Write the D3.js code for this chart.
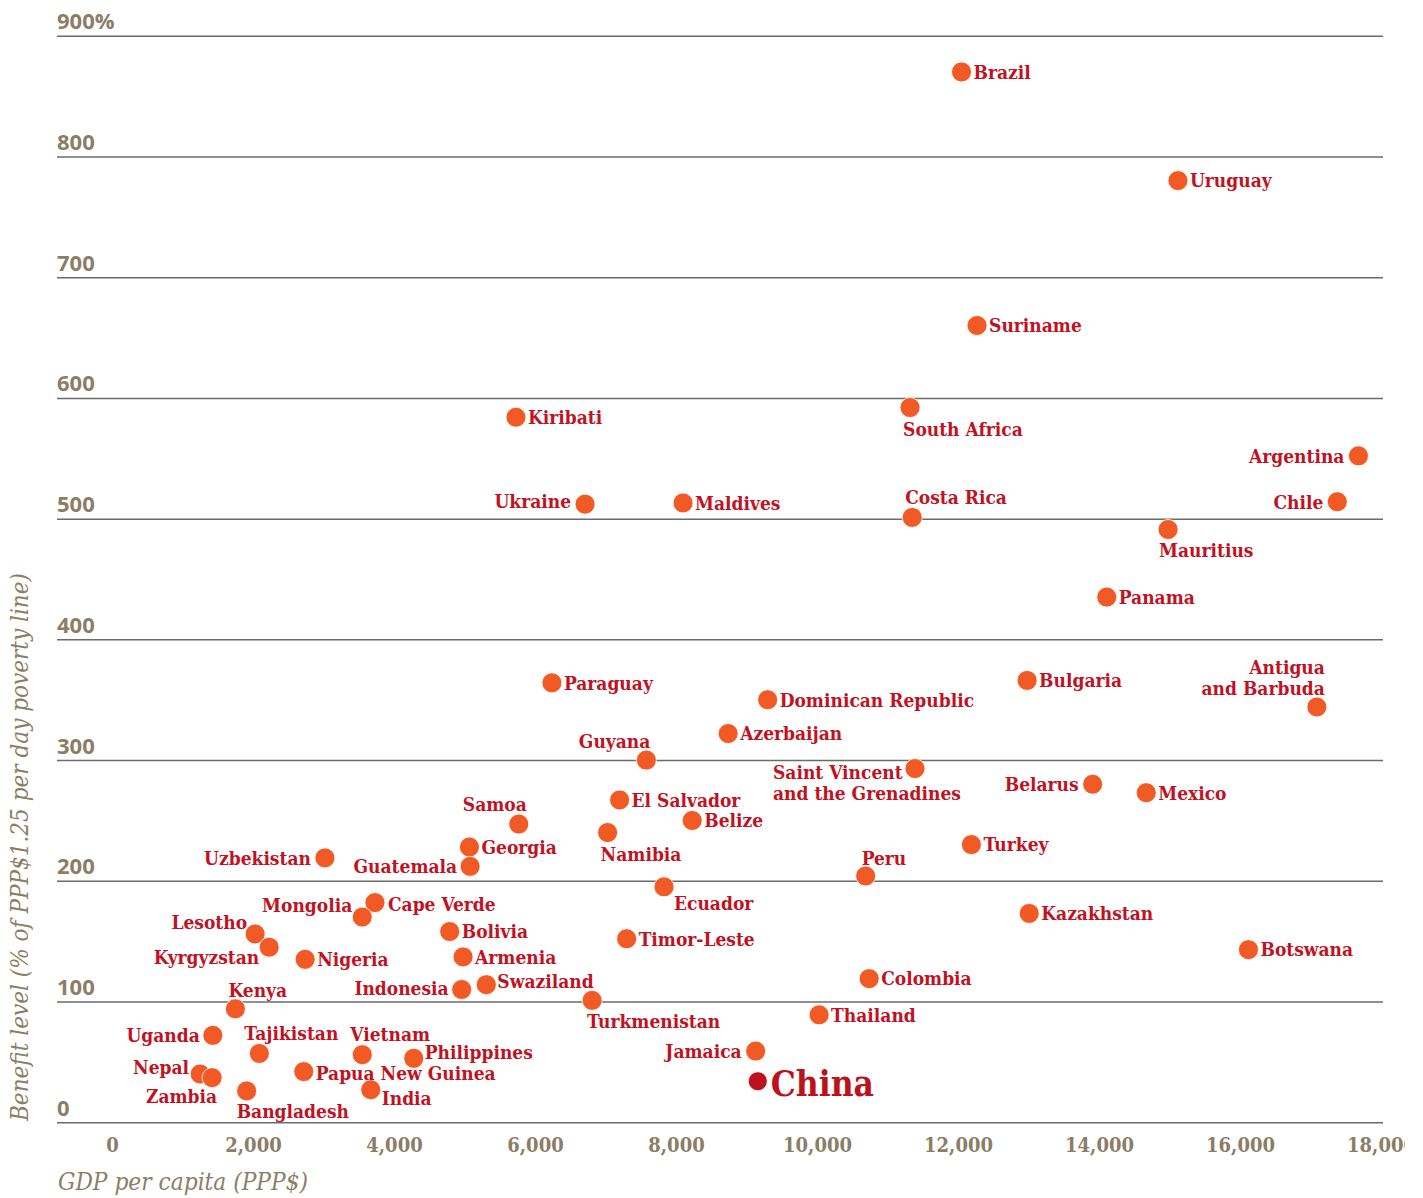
<!DOCTYPE html>
<html>
<head>
<meta charset="utf-8">
<script src="https://cdn.jsdelivr.net/npm/d3@7"></script>
<style>
  body { margin: 0; background: #fff; }
  svg { display: block; }
</style>
</head>
<body>
<svg width="1423" height="1198"></svg>
<script>
// ---- data ----
const countries = [
  "Brazil", "Uruguay", "Suriname", "Kiribati", "South Africa", "Argentina", "Ukraine", "Maldives",
  "Costa Rica", "Chile", "Mauritius", "Panama", "Paraguay", "Dominican Republic", "Bulgaria",
  "Antigua\nand Barbuda", "Azerbaijan", "Guyana", "Saint Vincent\nand the Grenadines", "Belarus", "Mexico",
  "El Salvador", "Samoa", "Belize", "Namibia", "Georgia", "Uzbekistan", "Guatemala", "Turkey", "Peru",
  "Ecuador", "Cape Verde", "Mongolia", "Kazakhstan", "Lesotho", "Bolivia", "Timor-Leste", "Kyrgyzstan",
  "Botswana", "Nigeria", "Armenia", "Colombia", "Indonesia", "Swaziland", "Turkmenistan", "Kenya",
  "Thailand", "Uganda", "Tajikistan", "Vietnam", "Philippines", "Jamaica", "Nepal", "Zambia",
  "Papua New Guinea", "Bangladesh", "India", "China"
];
const gdpPerCapita = [
  12050, 15120, 12270, 5730, 11320, 17680, 6710, 8100,
  11350, 17380, 14980, 14110, 6240, 9300, 12980,
  17090, 8740, 7580, 11390, 13910, 14670,
  7200, 5770, 8230, 7030, 5070, 3020, 5080, 12190, 10690,
  7830, 3730, 3550, 13010, 2030, 4790, 7300, 2230,
  16120, 2740, 4980, 10740, 4960, 5310, 6810, 1750,
  10030, 1430, 2090, 3550, 4280, 9130, 1250, 1420,
  2720, 1910, 3670, 9160
];
const benefitLevel = [
  870, 780, 660, 584, 592, 552, 512, 513,
  501, 514, 491, 435, 364, 350, 366,
  344, 322, 300, 293, 280, 273,
  267, 247, 250, 240, 228, 219, 212, 230, 204,
  195, 182, 170, 173, 156, 158, 152, 145,
  143, 135, 137, 119, 110, 114, 101, 94,
  89, 72, 57, 56, 53, 59, 40, 37,
  42, 26, 27, 34
];
const highlight = "China";

const xTicks = [0, 2000, 4000, 6000, 8000, 10000, 12000, 14000, 16000, 18000];
const yTicks = [0, 100, 200, 300, 400, 500, 600, 700, 800, 900];
const yTickLabels = ["0", "100", "200", "300", "400", "500", "600", "700", "800", "900%"];

// label placement: [dx, dy, anchor] relative to the dot (layout only)
const labelPlace = {
  "South Africa": [-7, 22, "start"],
  "Argentina": [-14, 0, "end"],
  "Ukraine": [-14, -3, "end"],
  "Costa Rica": [-7, -20, "start"],
  "Chile": [-14, 0, "end"],
  "Mauritius": [-9, 21, "start"],
  "Antigua\nand Barbuda": [8, -40, "end"],
  "Guyana": [4, -19, "end"],
  "Saint Vincent\nand the Grenadines": [-142, 4, "start"],
  "Belarus": [-14, 0, "end"],
  "Samoa": [8, -20, "end"],
  "Namibia": [-7, 22, "start"],
  "Uzbekistan": [-14, 0, "end"],
  "Guatemala": [-13, 0, "end"],
  "Peru": [-4, -18, "start"],
  "Ecuador": [10, 16, "start"],
  "Mongolia": [-10, -12, "end"],
  "Cape Verde": [13, 2, "start"],
  "Lesotho": [-8, -12, "end"],
  "Kyrgyzstan": [-10, 10, "end"],
  "Indonesia": [-13, -1, "end"],
  "Swaziland": [11, -4, "start"],
  "Turkmenistan": [-5, 21, "start"],
  "Kenya": [-7, -19, "start"],
  "Uganda": [-13, 0, "end"],
  "Tajikistan": [-15, -20, "start"],
  "Vietnam": [-12, -21, "start"],
  "Philippines": [11, -6, "start"],
  "Papua New Guinea": [12, 2, "start"],
  "Jamaica": [-14, 0, "end"],
  "Nepal": [-11, -7, "end"],
  "Zambia": [5, 19, "end"],
  "Bangladesh": [-10, 20, "start"],
  "India": [11, 8, "start"],
  "China": [13, 2, "start"]
};

const points = countries.map((c, i) => ({name: c, gdp: gdpPerCapita[i], benefit: benefitLevel[i]}));

const tan = "#8c7d66";
const dotColor = "#f15a24";
const labelColor = "#c1121f";
const chinaColor = "#bd111c";
const slab = "'DejaVu Serif Condensed', 'DejaVu Serif', serif";

const svg = d3.select("svg");

const gridLeft = 57, gridRight = 1383;

const x = d3.scaleLinear().domain([0, 18000]).range([112, 1381]);
const y = d3.scaleLinear().domain([0, 900]).range([1122.3, 35.7]);

// y gridlines + labels
const yAxis = svg.append("g")
    .attr("transform", `translate(${gridLeft},0)`)
    .call(d3.axisLeft(y).tickValues(yTicks).tickSize(-(gridRight - gridLeft))
        .tickFormat((d, i) => yTickLabels[i]));
yAxis.select(".domain").remove();
yAxis.selectAll(".tick line")
    .attr("stroke", "#6b6b6b")
    .attr("stroke-width", 1.5);
yAxis.selectAll(".tick text")
    .attr("x", 0)
    .attr("dy", -7)
    .attr("text-anchor", "start")
    .attr("fill", tan)
    .attr("font-family", "'Open Sans', sans-serif")
    .attr("font-weight", 700)
    .attr("font-size", "22px");

// x tick labels (clipped at the right like the original)
svg.append("clipPath").attr("id", "xclip")
    .append("rect").attr("x", 0).attr("y", 0).attr("width", 1405).attr("height", 60);

const xAxis = svg.append("g")
    .attr("transform", "translate(0,1122.3)")
    .attr("clip-path", "url(#xclip)")
    .call(d3.axisBottom(x).tickValues(xTicks).tickSize(0).tickFormat(d3.format(",")));
xAxis.select(".domain").remove();
xAxis.selectAll(".tick text")
    .attr("y", 30)
    .attr("dy", 0)
    .attr("fill", tan)
    .attr("font-family", slab)
    .attr("font-weight", "bold")
    .attr("font-size", "20px");

// axis titles
svg.append("text")
    .attr("x", 58)
    .attr("y", 1190)
    .attr("fill", tan)
    .attr("font-family", slab)
    .attr("font-style", "italic")
    .attr("font-size", "24px")
    .attr("textLength", 250)
    .attr("lengthAdjust", "spacingAndGlyphs")
    .text("GDP per capita (PPP$)");

svg.append("text")
    .attr("transform", "translate(28,1121) rotate(-90)")
    .attr("fill", tan)
    .attr("font-family", slab)
    .attr("font-style", "italic")
    .attr("font-size", "24px")
    .attr("textLength", 548)
    .attr("lengthAdjust", "spacingAndGlyphs")
    .text("Benefit level (% of PPP$1.25 per day poverty line)");

// dots
svg.append("g").selectAll("circle")
    .data(points)
    .join("circle")
    .attr("cx", d => x(d.gdp))
    .attr("cy", d => y(d.benefit))
    .attr("r", d => d.name === highlight ? 9.5 : 10)
    .attr("fill", d => d.name === highlight ? chinaColor : dotColor)
    .attr("stroke", "#fff")
    .attr("stroke-width", 0.8);

// labels
svg.append("g").selectAll("text")
    .data(points)
    .join("text")
    .attr("font-family", slab)
    .attr("font-weight", "bold")
    .attr("font-size", d => d.name === highlight ? "35px" : "19px")
    .attr("fill", d => d.name === highlight ? chinaColor : labelColor)
    .attr("text-anchor", d => (labelPlace[d.name] || [12, 0, "start"])[2])
    .each(function(d) {
        const p = labelPlace[d.name] || [12, 0, "start"];
        const lx = x(d.gdp) + p[0];
        const ly = y(d.benefit) + p[1];
        const lines = d.name.split("\n");
        const t = d3.select(this);
        lines.forEach((line, k) => {
            t.append("tspan")
                .attr("x", lx)
                .attr("y", ly + k * 21)
                .attr("dy", "0.36em")
                .text(line);
        });
    });
</script>
</body>
</html>
